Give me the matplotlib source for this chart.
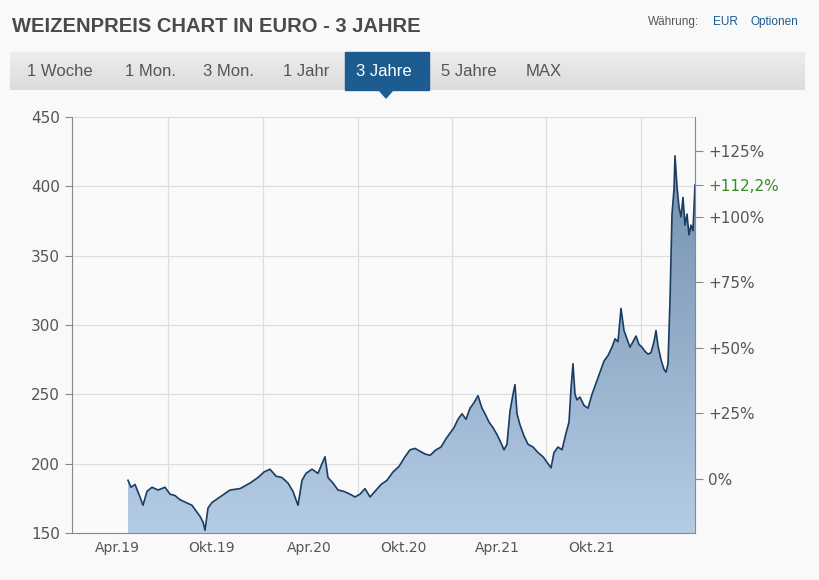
import matplotlib
matplotlib.use("Agg")
import matplotlib.pyplot as plt
import numpy as np
from matplotlib.patches import Rectangle, Polygon

# x in months since Jan 2019 (derived from chart pixels), price in EUR
px_x = [128,131,135,140,143,147,152,158,165,170,175,180,186,192,197,200,203,205,208,212,220,230,240,250,
        258,264,270,276,282,288,293,296,298,302,306,312,318,322,325,328,333,338,344,350,355,360,365,370,375,
        381,387,393,399,405,410,415,420,425,430,436,441,446,450,454,458,462,466,470,474,478,482,485,489,493,
        497,501,504,507,510,513,515,517,520,524,528,533,538,543,548,551,554,558,562,566,569,571,573,575,577,
        580,584,588,592,596,600,604,608,612,615,618,621,624,627,630,633,636,639,642,645,648,651,654,656,658,
        661,664,666,668,670,672,674,675,677,679,681,683,685,687,689,691,693,695]
price = [188,183,185,176,170,180,183,181,183,178,177,174,172,170,165,162,158,152,168,172,176,181,182,186,
         190,194,196,191,190,186,180,174,170,188,193,196,193,200,205,190,186,181,180,178,176,178,182,176,180,
         185,188,194,198,205,210,211,209,207,206,210,212,218,222,226,232,236,232,240,244,249,240,236,230,226,
         221,215,210,214,238,250,257,236,228,220,214,212,208,205,200,197,208,212,210,222,230,254,272,250,246,
         248,242,240,250,258,266,274,278,284,290,288,312,296,290,284,288,292,286,284,281,279,280,288,296,285,
         275,268,266,272,318,380,398,422,400,385,378,392,372,380,365,372,368,401]
x_months = [(p - 117) / 15.75 + 3 for p in px_x]

tick_pos = [3, 9.03, 15.2, 21.2, 27.17, 33.1]
tick_labels = ["Apr.19", "Okt.19", "Apr.20", "Okt.20", "Apr.21", "Okt.21"]
grid_pos = [6.24, 12.27, 18.3, 24.27, 30.24, 36.27]
base = 189.0
pct_ticks = [0, 25, 50, 75, 100, 125]
last_pct = "+112,2%"

fig = plt.figure(figsize=(8.2, 5.8), dpi=100)
fig.patch.set_facecolor("#f9f9f9")
W, H = 820, 580
def fx(p): return p / W
def fy(p): return 1 - p / H

fig.text(fx(12), fy(26), "WEIZENPREIS CHART IN EURO - 3 JAHRE", fontsize=14.5, fontweight="bold",
         color="#4a4a4a", va="center", family="Liberation Sans")
fig.text(fx(648), fy(22), "Währung:", fontsize=8.5, color="#555555", va="center", family="Liberation Sans")
fig.text(fx(713), fy(22), "EUR", fontsize=8.5, color="#1c5a8e", va="center", family="Liberation Sans")
fig.text(fx(751), fy(22), "Optionen", fontsize=8.5, color="#1c5a8e", va="center", family="Liberation Sans")

grad = np.linspace(0.93, 0.86, 50).reshape(-1, 1)
bar_ax = fig.add_axes([fx(10), fy(90), fx(795), (90 - 52) / H])
bar_ax.imshow(np.dstack([grad, grad, grad]), aspect="auto", extent=[0, 1, 0, 1])
bar_ax.axis("off")
fig.patches.append(Rectangle((fx(345), fy(90)), fx(84), (90 - 52) / H, transform=fig.transFigure,
                             color="#1d5c91", zorder=3))
fig.patches.append(Polygon([(fx(379), fy(90)), (fx(393), fy(90)), (fx(386), fy(98))],
                           transform=fig.transFigure, color="#1d5c91", zorder=3))
tabs = [("1 Woche", 27), ("1 Mon.", 125), ("3 Mon.", 203), ("1 Jahr", 283), ("3 Jahre", 356),
        ("5 Jahre", 441), ("MAX", 526)]
for t, xp in tabs:
    fig.text(fx(xp), fy(72), t, fontsize=12, color="white" if t == "3 Jahre" else "#555555",
             va="center", family="Liberation Sans", zorder=4)

ax = fig.add_axes([fx(72), fy(533), fx(623), 416 / H])
ax.set_facecolor("#fafafa")
x0, x1 = (72 - 117) / 15.75 + 3, (695 - 117) / 15.75 + 3
ax.set_xlim(x0, x1)
ax.set_ylim(150, 450)

g = np.linspace(0, 1, 256).reshape(-1, 1)
c_top = np.array([0.45, 0.56, 0.68]); c_bot = np.array([0.71, 0.80, 0.90])
img = c_bot + (c_top - c_bot) * g
im = ax.imshow(img.reshape(256, 1, 3), aspect="auto", extent=[x0, x1, 150, 425], origin="lower", zorder=1)
clip = Polygon(list(zip([x_months[0]] + x_months + [x_months[-1]], [150] + price + [150])),
               transform=ax.transData, facecolor="none", edgecolor="none")
ax.add_patch(clip)
im.set_clip_path(clip)
ax.plot(x_months, price, color="#1b3d63", lw=1.2, zorder=3)

ax.set_yticks(range(150, 451, 50))
ax.set_xticks(tick_pos)
ax.set_xticklabels(tick_labels)
for g_ in grid_pos:
    ax.axvline(g_, color="#dddddd", lw=0.9, zorder=0.5)
for yv in range(200, 451, 50):
    ax.axhline(yv, color="#dddddd", lw=0.9, zorder=0.5)
for s in ["top", "right"]:
    ax.spines[s].set_visible(False)
for s in ["left", "bottom"]:
    ax.spines[s].set_color("#888888")
ax.tick_params(axis="y", colors="#555555", labelsize=11, length=5, color="#888888")
ax.tick_params(axis="x", colors="#555555", labelsize=10, length=0, pad=6)

ax2 = ax.twinx()
ax2.set_ylim(150, 450)
vals = [base * (1 + p / 100) for p in pct_ticks]
ax2.set_yticks(vals + [price[-1]])
ax2.set_yticklabels([("+%d%%" % p if p > 0 else "0%") for p in pct_ticks] + [last_pct])
for s in ["top", "left", "bottom"]:
    ax2.spines[s].set_visible(False)
ax2.spines["right"].set_color("#888888")
ax2.tick_params(axis="y", colors="#555555", labelsize=11, length=6, color="#888888")
ax2.get_yticklabels()[-1].set_color("#3a8a2a")

fig.savefig("out.png", dpi=100, facecolor=fig.get_facecolor())
